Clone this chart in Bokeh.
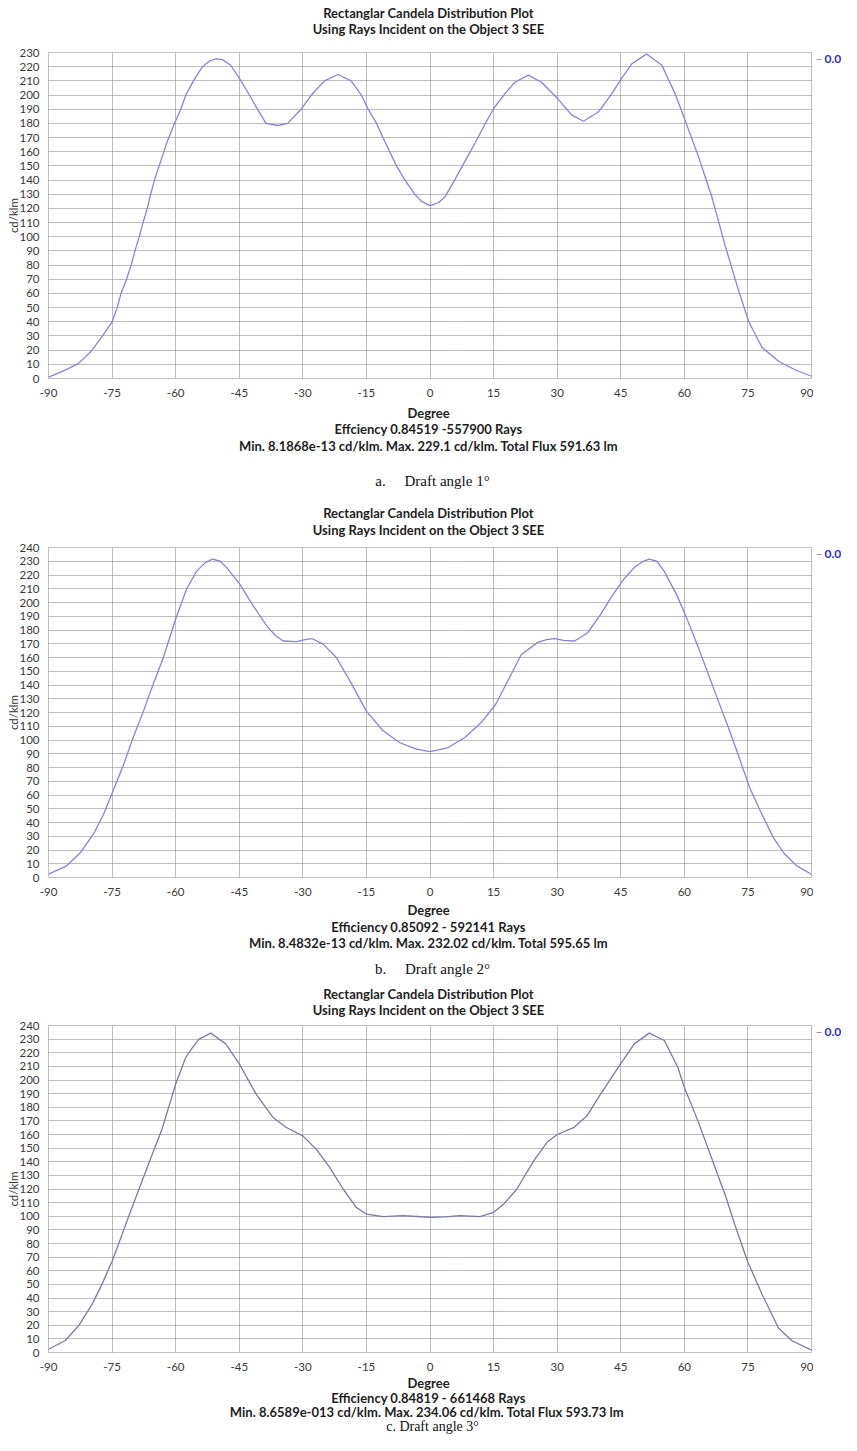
from bokeh.plotting import figure
from bokeh.models import Range1d, FixedTicker, Label
from bokeh.layouts import column, row
from bokeh.embed import file_html
from bokeh.resources import INLINE

# ---------------- data ----------------
x_ticks = list(range(-90, 91, 15))

deg_a = [-90, -87.5, -85, -83, -80, -77.5, -75, -73.8, -72.9, -71.6, -70.5, -69.6, -68.6,
         -67.7, -66.7, -65.9, -65.0, -63.9, -62.9, -62.0, -60.4, -58.8, -57.6, -55.8, -53.7,
         -52, -50.5, -49, -47, -44.6, -42.6, -40.7, -38.7, -35.9, -33.6, -30.4, -28.0, -24.9,
         -21.7, -18.6, -16.2, -14.6, -12.6, -11.1, -9.5, -7.9, -5.9, -3.6, -2.0, 0,
         2, 3.5, 5.8, 8.2, 10.6, 12.9, 15.0, 17.7, 20, 23.2, 26.3, 30.1, 33.4, 36.2, 39.7,
         42.9, 45.2, 47.6, 51.1, 54.7, 57.8, 60.2, 63.4, 66.5, 69.7, 72.8, 75.2, 78.3, 82.3,
         86.2, 90]
cd_a = [1, 4, 7.5, 10.5, 19, 29, 40, 50, 60, 70, 80, 90, 100,
        110, 120, 130, 140, 150, 159, 167, 179, 190, 200, 210, 220,
        224, 225.5, 225, 221, 210, 200, 190, 180, 178.5, 180, 190, 200, 210,
        214.5, 210, 200, 190, 180, 170, 160, 150, 140, 130, 125, 122,
        124, 128, 140, 153, 166, 179, 190.5, 201, 209, 214, 209, 197.5, 186, 181.5, 188,
        201, 211.7, 222, 229, 221, 201, 182, 156, 128, 93, 62, 40, 22, 12,
        6, 1.6]

deg_b = [-90, -85.7, -82.5, -79.4, -77.0, -74.9, -72.3, -70.0, -67.6, -65.3, -62.9, -60.0,
         -57.4, -55.0, -53, -51.3, -49.5, -48.0, -44.8, -41.7, -38.5, -36.5, -34.6, -31.5,
         -29.5, -27.9, -25.2, -22.1, -18.9, -15.0, -11.1, -7.1, -3.2, 0, 4.3, 8.2, 12.1, 15.5,
         19.2, 21.5, 25.4, 27.5, 29.4, 31.5, 34.1, 37.2, 40.3, 42.7, 45.4, 48.2, 50, 51.7,
         53.5, 55.2, 58.3, 60.5, 63.0, 65.4, 67.7, 70.1, 72.4, 75.4, 77.9, 81.0, 83.4, 86.5, 90]
cd_b = [2.4, 8.5, 18, 31.5, 46, 62, 82, 102, 121, 140.6, 160, 188,
        210, 223, 229, 231.5, 230, 225.5, 213, 197.6, 183, 176, 172, 171.6,
        173, 173.8, 169.7, 160, 143, 121, 106.7, 98, 93.3, 91.6, 94.5, 101.8, 112.7, 126,
        148, 162, 171, 173, 173.8, 172.5, 172, 178, 191.5, 203.6, 215.8, 225.5, 229.5, 231.5,
        230, 223, 205, 189, 169.7, 150, 131, 111.5, 92, 65.5, 48.5, 29, 18, 8.5, 2.4]

deg_c = [-90, -86.1, -82.9, -79.7, -77.4, -75.0, -72.6, -70.3, -67.9, -65.5, -63.2, -60.0,
         -57.6, -56, -54.5, -51.7, -48.2, -45.0, -41.1, -37.1, -34.0, -30.0, -26.9, -23.7,
         -20.5, -17.4, -15.0, -11.1, -6.4, -3, 0, 3.5, 7.1, 11.8, 15, 17.4, 20.5, 24.5, 27.6,
         30, 34, 37.1, 40.3, 45, 48.2, 51.7, 55.3, 58.5, 60, 63.2, 66.4, 69.6, 71.9, 74.9,
         78.3, 82.2, 85.4, 90]
cd_c = [2.4, 8.6, 19.6, 35.5, 50, 67, 87, 106.5, 126, 145.7, 164, 197,
        216.7, 224, 230, 234.4, 226.5, 212, 190, 172.7, 165.3, 159, 149.4, 136,
        120, 106.5, 101.6, 99.7, 100.4, 99.8, 99.2, 99.6, 100.4, 99.7, 102.9, 109, 120, 140.8, 154.3,
        160, 165.3, 174, 190, 212, 226.5, 234.4, 229, 209, 194.7, 170, 143, 116, 94, 67,
        43, 18, 8.6, 1.7]

title1 = "Rectanglar Candela Distribution Plot"
title2 = "Using Rays Incident on the Object 3 SEE"
x_label = "Degree"
y_label = "cd/klm"
legend_text = "0.0"

info_a = ["Effciency 0.84519 -557900 Rays",
          "Min. 8.1868e-13 cd/klm. Max. 229.1 cd/klm. Total Flux 591.63 lm"]
info_b = ["Efficiency 0.85092 - 592141 Rays",
          "Min. 8.4832e-13 cd/klm. Max. 232.02 cd/klm. Total 595.65 lm"]
info_c = ["Efficiency 0.84819 - 661468 Rays",
          "Min. 8.6589e-013  cd/klm. Max. 234.06 cd/klm. Total Flux 593.73 lm"]

cap_a = "a.\u00a0\u00a0\u00a0\u00a0\u00a0Draft angle 1\u00b0"
cap_b = "b.\u00a0\u00a0\u00a0\u00a0\u00a0Draft angle 2\u00b0"
cap_c = "c.\u00a0Draft angle 3\u00b0"

FONT = "Lato"
SERIF = "Liberation Serif"
W = 841
FL, FR = 48, 811          # frame left / right (px)
MW = FR + 2               # width of the main figure
LW = W - MW               # width of the legend strip


def px_to_deg(sx):
    return (sx - FL) / (FR - FL) * 180.0 - 90.0


def text_fig(height):
    p = figure(width=W, height=height, output_backend="svg", toolbar_location=None,
               x_range=Range1d(-90, 90), y_range=Range1d(height, 0),
               x_axis_location=None, y_axis_location=None, title_location=None,
               min_border_left=FL, min_border_right=W - FR, min_border_top=0,
               min_border_bottom=0)
    p.outline_line_color = None
    p.background_fill_color = "white"
    p.border_fill_color = "white"
    p.xgrid.visible = False
    p.ygrid.visible = False
    return p


def put(p, top, text, sx, sy, size="13px", style="bold", font=FONT, col="#1e1e1e",
        baseline="middle"):
    p.add_layout(Label(x=px_to_deg(sx), y=sy - top, text=text, text_font=font,
                       text_font_size=size, text_font_style=style, text_color=col,
                       text_align="center", text_baseline=baseline))


def main_fig(deg, cd, ymax, color, top, ft, fb, bottom):
    height = bottom - top
    p = figure(width=MW, height=height, output_backend="svg", toolbar_location=None,
               x_range=Range1d(-90, 90), y_range=Range1d(0, ymax), title_location=None,
               min_border_left=FL, min_border_right=MW - FR,
               min_border_top=ft - top, min_border_bottom=bottom - fb)
    p.background_fill_color = "white"
    p.border_fill_color = "white"
    p.outline_line_color = "#808080"
    p.outline_line_dash = "1 1"
    p.xaxis.ticker = FixedTicker(ticks=x_ticks)
    p.xaxis.major_label_overrides = {t: str(t) for t in x_ticks}
    p.yaxis.ticker = FixedTicker(ticks=list(range(0, ymax + 1, 10)))
    for ax in (p.xaxis, p.yaxis):
        ax.axis_line_color = None
        ax.major_tick_line_color = None
        ax.minor_tick_line_color = None
        ax.major_label_text_font = FONT
        ax.major_label_text_font_size = "11.5px"
        ax.major_label_text_color = "#3a3a3a"
    p.xaxis.major_label_standoff = 4
    p.yaxis.major_label_standoff = 3
    p.yaxis.axis_label = y_label
    p.yaxis.axis_label_text_font = FONT
    p.yaxis.axis_label_text_font_size = "11.5px"
    p.yaxis.axis_label_text_font_style = "normal"
    p.yaxis.axis_label_text_color = "#333333"
    p.yaxis.axis_label_standoff = -4
    for g in (p.xgrid, p.ygrid):
        g.grid_line_color = "#7a7a7a"
        g.grid_line_dash = "1 1"
        g.grid_line_width = 1
    p.line(deg, cd, line_color=color, line_width=1.3)
    return p


def legend_fig(ymax, color, top, ft, fb, bottom, sy):
    height = bottom - top
    p = figure(width=LW, height=height, output_backend="svg", toolbar_location=None,
               x_range=Range1d(0, LW), y_range=Range1d(0, ymax),
               x_axis_location=None, y_axis_location=None, title_location=None,
               min_border_left=0, min_border_right=0,
               min_border_top=ft - top, min_border_bottom=bottom - fb)
    p.outline_line_color = None
    p.background_fill_color = "white"
    p.border_fill_color = "white"
    p.xgrid.visible = False
    p.ygrid.visible = False
    yv = (fb - sy) / (fb - ft) * ymax
    p.add_layout(Label(x=2, y=yv, text="\u2013", text_font=FONT, text_font_size="12px",
                       text_color=color, text_align="left", text_baseline="middle"))
    p.add_layout(Label(x=11, y=yv, text=legend_text, text_font=FONT,
                       text_font_size="12px", text_font_style="bold",
                       text_color="#3030cc", text_align="left", text_baseline="middle"))
    return p


def panel(deg, cd, ymax, info, caption, color, top, ft, fb, end, ys, tb=10, capsize="15px"):
    t1, t2, lg, dg, e1, e2, cp = ys
    upper = text_fig(ft - tb - top)
    put(upper, top, title1, 428, t1)
    put(upper, top, title2, 428, t2)
    mid_bottom = fb + 22
    mid = main_fig(deg, cd, ymax, color, ft - tb, ft, fb, mid_bottom)
    leg = legend_fig(ymax, color, ft - tb, ft, fb, mid_bottom, lg)
    lower = text_fig(end - mid_bottom)
    put(lower, mid_bottom, x_label, 428, dg)
    put(lower, mid_bottom, info[0], 428, e1)
    put(lower, mid_bottom, info[1], 428, e2)
    put(lower, mid_bottom, caption, 432, cp, size=capsize, style="normal", font=SERIF,
        col="#111111", baseline="alphabetic")
    return [upper, row(mid, leg, spacing=0), lower]


figs = []
figs += panel(deg_a, cd_a, 230, info_a, cap_a, "#8585d8", 0, 52, 378, 496,
              (12, 28, 58, 412, 428, 445, 480))
figs += panel(deg_b, cd_b, 240, info_b, cap_b, "#8585d8", 496, 547, 877, 982,
              (512, 529, 553, 909, 926, 942, 968))
figs += panel(deg_c, cd_c, 240, info_c, cap_c, "#7a7aa6", 982, 1025, 1352, 1435,
              (993, 1009, 1031, 1382, 1397, 1411, 1426), tb=7, capsize="14px")

layout = column(*figs, spacing=0)
open("out.html", "w").write(file_html(layout, INLINE))
